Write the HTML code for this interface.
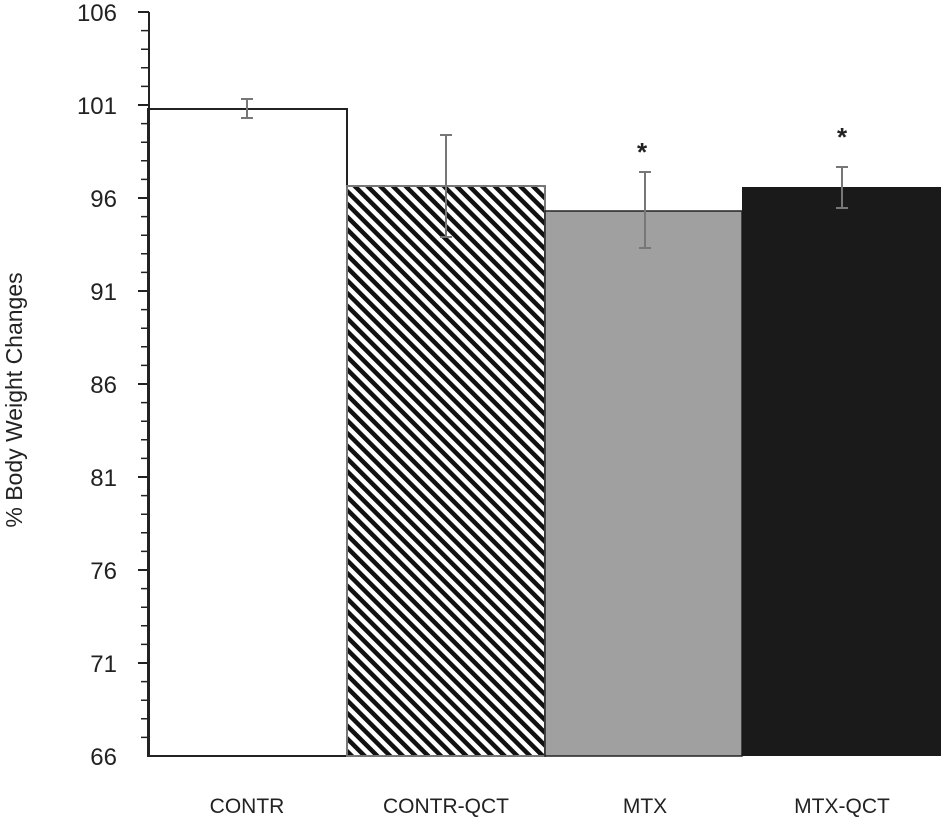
<!DOCTYPE html>
<html><head><style>body{margin:0;background:#fff}</style></head><body>
<svg width="941" height="818" xmlns="http://www.w3.org/2000/svg" font-family="Liberation Sans, sans-serif">
<defs>
<pattern id="h" patternUnits="userSpaceOnUse" width="9" height="9" patternTransform="rotate(-45)">
<rect width="9" height="9" fill="#fff"/><rect width="4.5" height="9" fill="#111"/>
</pattern>
</defs>
<rect x="148" y="109" width="199" height="647" fill="#fff" stroke="#222" stroke-width="2"/>
<rect x="347" y="186" width="198" height="570" fill="url(#h)" stroke="#777" stroke-width="2"/>
<rect x="545" y="211" width="197" height="545" fill="#a0a0a0" stroke="#222" stroke-width="1.5"/>
<rect x="742" y="187" width="199" height="569" fill="#1a1a1a"/>
<g stroke="#777" stroke-width="2" fill="none">
<path d="M247 99V118M241 99H253M241 118H253"/>
<path d="M446 135V237M440 135H452M440 237H452"/>
<path d="M645 172V248M639 172H651M639 248H651"/>
<path d="M842 167V208M836 167H848M836 208H848"/>
</g>
<g stroke="#222" stroke-width="2">
<line x1="149" y1="12" x2="149" y2="756"/>
<line x1="138" y1="12" x2="149" y2="12"/><line x1="138" y1="105" x2="149" y2="105"/><line x1="138" y1="198" x2="149" y2="198"/><line x1="138" y1="291" x2="149" y2="291"/><line x1="138" y1="384" x2="149" y2="384"/><line x1="138" y1="477" x2="149" y2="477"/><line x1="138" y1="570" x2="149" y2="570"/><line x1="138" y1="663" x2="149" y2="663"/>
</g>
<path stroke="#222" stroke-width="1.5" d="M141 30.6H149M141 49.2H149M141 67.8H149M141 86.4H149M141 123.6H149M141 142.2H149M141 160.8H149M141 179.4H149M141 216.6H149M141 235.2H149M141 253.8H149M141 272.4H149M141 309.6H149M141 328.2H149M141 346.8H149M141 365.4H149M141 402.6H149M141 421.2H149M141 439.8H149M141 458.4H149M141 495.6H149M141 514.2H149M141 532.8H149M141 551.4H149M141 588.6H149M141 607.2H149M141 625.8H149M141 644.4H149M141 681.6H149M141 700.2H149M141 718.8H149M141 737.4H149"/>
<g font-size="24" fill="#222" text-anchor="end">
<text x="117" y="21">106</text><text x="117" y="114">101</text><text x="117" y="207">96</text><text x="117" y="300">91</text><text x="117" y="393">86</text><text x="117" y="486">81</text><text x="117" y="579">76</text><text x="117" y="672">71</text><text x="117" y="765">66</text>
</g>
<text transform="translate(22,400) rotate(-90)" font-size="23" fill="#222" text-anchor="middle">% Body Weight Changes</text>
<g font-size="21" fill="#222" text-anchor="middle">
<text x="247" y="813">CONTR</text><text x="446" y="813">CONTR-QCT</text><text x="645" y="813">MTX</text><text x="842" y="813">MTX-QCT</text>
</g>
<g font-size="26" fill="#222" text-anchor="middle" font-weight="bold">
<text x="642" y="161">*</text><text x="842" y="146">*</text>
</g>
</svg>
</body></html>
